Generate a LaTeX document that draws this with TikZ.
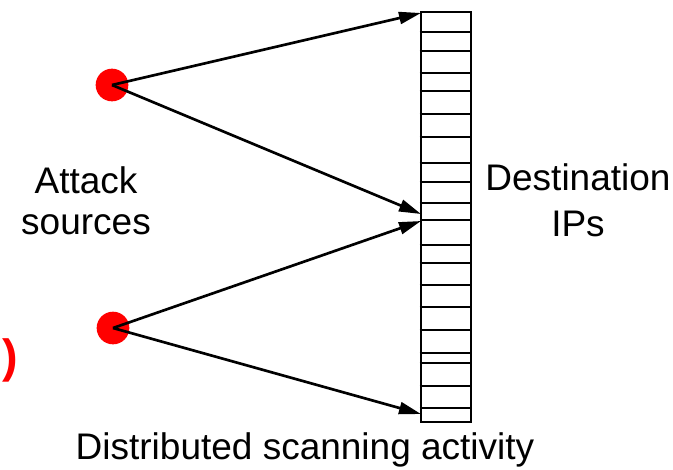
\documentclass[tikz,border=0pt]{standalone}
\usepackage{fontspec}
\setmainfont{Liberation Sans}
\usetikzlibrary{positioning,arrows.meta,calc}

\begin{document}
\begin{tikzpicture}[x=0.75pt,y=-0.75pt,
  src/.style={circle,fill=red,minimum size=24.5pt,inner sep=0pt},
  lbl/.style={font=\fontsize{27.75}{#1}\selectfont,align=center,inner sep=0pt},
  lbl/.default=31,
  scan/.style={line width=2pt,-{Triangle[length=16.5pt,width=9pt]}}]
\useasboundingbox (0,0) rectangle (673,469);

% destination address space
\node[draw,line width=2pt,inner sep=0pt,minimum width=37.5pt,minimum height=307.5pt] (ips) at (446,217) {};
\foreach \y in {32,51,73,91,114,137,163,182,203,220,245,263,285,307,330,353,363,386,408}
  \draw[line width=2pt] (ips.west |- 0,\y) -- (ips.east |- 0,\y);

\node[src] (s1) at (112,85) {};
\node[src] (s2) at (113,328) {};

\coordinate (d1) at (421,13);
\coordinate (d2) at (421,214);
\coordinate (d3) at (421,221);
\coordinate (d4) at (421,414);

\draw[scan] (s1.center) -- (d1);
\draw[scan] (s1.center) -- (d2);
\draw[scan] (s2.center) -- (d3);
\draw[scan] (s2.center) -- (d4);

\node[lbl=30.75] (atk) at (86,201) {Attack\\sources};
\node[lbl=34.5] (dst) at (578,200) {Destination\\IPs};
\node[lbl,anchor=base] (cap) at (305,459) {Distributed scanning activity};
\node[text=red,font=\fontsize{35}{35}\selectfont\bfseries,inner sep=0pt] (paren) at (10,360) {)};

\end{tikzpicture}
\end{document}
